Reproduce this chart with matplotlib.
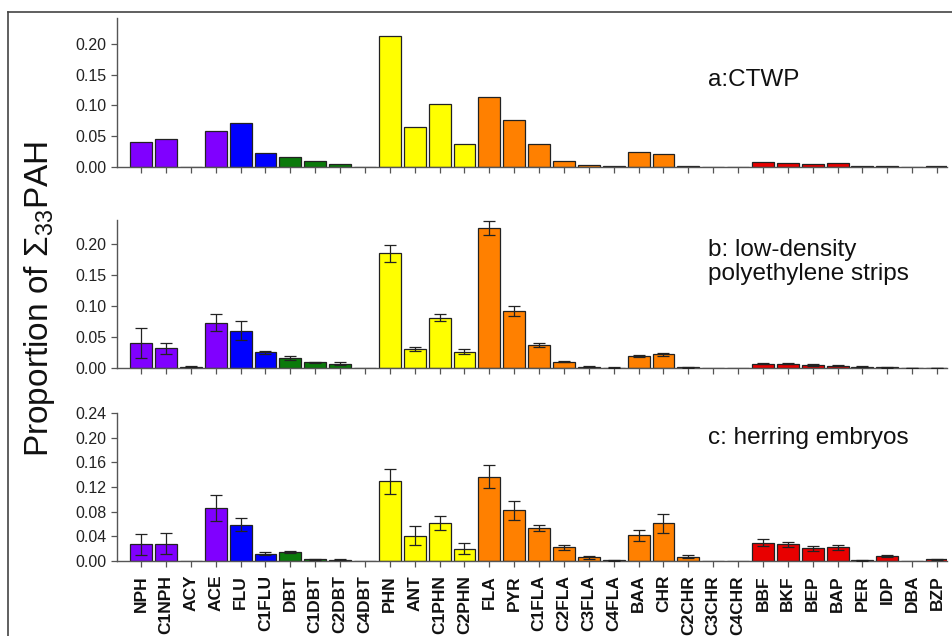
import numpy as np
import matplotlib
matplotlib.use("Agg")
import matplotlib.pyplot as plt
from matplotlib.lines import Line2D

plt.rcParams['font.family'] = ['Liberation Sans', 'DejaVu Sans']
plt.rcParams['mathtext.fontset'] = 'custom'
plt.rcParams['mathtext.rm'] = 'Liberation Sans'

compounds = ["NPH", "C1NPH", "ACY", "ACE", "FLU", "C1FLU", "DBT", "C1DBT", "C2DBT", "C4DBT",
             "PHN", "ANT", "C1PHN", "C2PHN", "FLA", "PYR", "C1FLA", "C2FLA", "C3FLA", "C4FLA",
             "BAA", "CHR", "C2CHR", "C3CHR", "C4CHR", "BBF", "BKF", "BEP", "BAP", "PER",
             "IDP", "DBA", "BZP"]

# panel a: CTWP (no error bars)
ctwp = [0.041, 0.045, 0.0, 0.058, 0.072, 0.022, 0.016, 0.009, 0.005, 0.0,
        0.212, 0.065, 0.102, 0.037, 0.113, 0.076, 0.037, 0.009, 0.003, 0.001,
        0.024, 0.021, 0.002, 0.0, 0.0, 0.008, 0.007, 0.005, 0.006, 0.001,
        0.001, 0.0, 0.001]

# panel b: low-density polyethylene strips
ldpe = [0.040, 0.032, 0.002, 0.073, 0.060, 0.025, 0.016, 0.009, 0.007, 0.0,
        0.185, 0.031, 0.081, 0.026, 0.226, 0.092, 0.037, 0.010, 0.002, 0.0005,
        0.019, 0.022, 0.001, 0.0, 0.0, 0.007, 0.007, 0.005, 0.004, 0.002,
        0.001, 0.0005, 0.0005]
ldpe_err = [0.024, 0.009, 0.001, 0.014, 0.015, 0.002, 0.003, 0.001, 0.002, 0.0,
            0.014, 0.003, 0.006, 0.004, 0.011, 0.008, 0.003, 0.001, 0.001, 0.0005,
            0.002, 0.002, 0.001, 0.0, 0.0, 0.001, 0.001, 0.001, 0.001, 0.0005,
            0.0005, 0.0003, 0.0003]

# panel c: herring embryos
herring = [0.027, 0.028, 0.0, 0.086, 0.059, 0.012, 0.015, 0.003, 0.002, 0.0005,
           0.129, 0.041, 0.062, 0.020, 0.137, 0.082, 0.054, 0.022, 0.006, 0.001,
           0.042, 0.061, 0.007, 0.0, 0.0, 0.030, 0.027, 0.021, 0.022, 0.001,
           0.008, 0.0, 0.003]
herring_err = [0.017, 0.017, 0.0, 0.021, 0.011, 0.002, 0.002, 0.001, 0.001, 0.0,
               0.020, 0.015, 0.011, 0.009, 0.018, 0.015, 0.005, 0.004, 0.002, 0.001,
               0.009, 0.015, 0.002, 0.0, 0.0, 0.006, 0.004, 0.004, 0.004, 0.001,
               0.002, 0.0, 0.001]

# colour group of each compound
groups = ["purple"] * 4 + ["blue"] * 2 + ["green"] * 4 + ["yellow"] * 4 + ["orange"] * 11 + ["red"] * 8
palette = {"purple": "#8000FF", "blue": "#0000FF", "green": "#0A7A0A",
           "yellow": "#FFFF00", "orange": "#FF8000", "red": "#E80000"}
colors = [palette[g] for g in groups]

panels = [
    (ctwp, None, "a:CTWP", 0.242, np.arange(0, 0.201, 0.05), "%.2f", 0.585),
    (ldpe, ldpe_err, "b: low-density\npolyethylene strips", 0.2387, np.arange(0, 0.201, 0.05), "%.2f", 0.716),
    (herring, herring_err, "c: herring embryos", 0.24, np.arange(0, 0.241, 0.04), "%.2f", 0.83),
]
bottoms = [1 - 167 / 636, 1 - 368 / 636, 1 - 561 / 636]
heights = [149 / 636, 148 / 636, 148 / 636]

fig = plt.figure(figsize=(9.52, 6.36), dpi=100)
x = np.arange(len(compounds))
axis_col = "#555555"

for i, (vals, errs, label, ytop, yt, fmt, ty) in enumerate(panels):
    ax = fig.add_axes([117 / 952, bottoms[i], (947 - 117) / 952, heights[i]])
    ax.bar(x, vals, width=0.88, color=colors, edgecolor="#222222", linewidth=0.9, zorder=2)
    if errs is not None:
        ev = np.array(vals)
        ee = np.array(errs)
        m = ee > 0
        ax.errorbar(x[m], ev[m], yerr=ee[m], fmt="none", ecolor="#222222",
                    elinewidth=0.9, capsize=4, capthick=0.9, zorder=3)
    ax.set_xlim(-0.97, 32.4)
    ax.set_ylim(0, ytop)
    ax.set_yticks(yt)
    ax.set_yticklabels([fmt % v for v in yt], fontsize=11.5, color="#222222")
    ax.set_xticks(x)
    if i == 2:
        ax.set_xticklabels(compounds, rotation=90, fontsize=12.5, fontweight="bold",
                           va="top", color="#111111")
    else:
        ax.set_xticklabels([])
    for s in ["top", "right"]:
        ax.spines[s].set_visible(False)
    for s in ["left", "bottom"]:
        ax.spines[s].set_color(axis_col)
        ax.spines[s].set_linewidth(1.0)
    ax.tick_params(axis="both", direction="out", length=4, width=0.9, color=axis_col)
    ax.tick_params(axis="x", pad=6)
    ax.text((708 - 117) / (947 - 117), ty, label, transform=ax.transAxes,
            ha="left", va="center", fontsize=17.5, color="#111111", linespacing=1.15)

fig.text(0.042, 0.53, "Proportion of Σ$_{\\mathregular{33}}$PAH", rotation=90,
         ha="center", va="center", fontsize=24, color="#111111")

# page frame lines (top and left) around the figure
fig.add_artist(Line2D([8 / 952, 1.0], [1 - 12 / 636, 1 - 12 / 636], color="#444444", lw=1.2))
fig.add_artist(Line2D([8 / 952, 8 / 952], [0, 1 - 12 / 636], color="#444444", lw=1.2))

fig.savefig("out.png", dpi=100)
